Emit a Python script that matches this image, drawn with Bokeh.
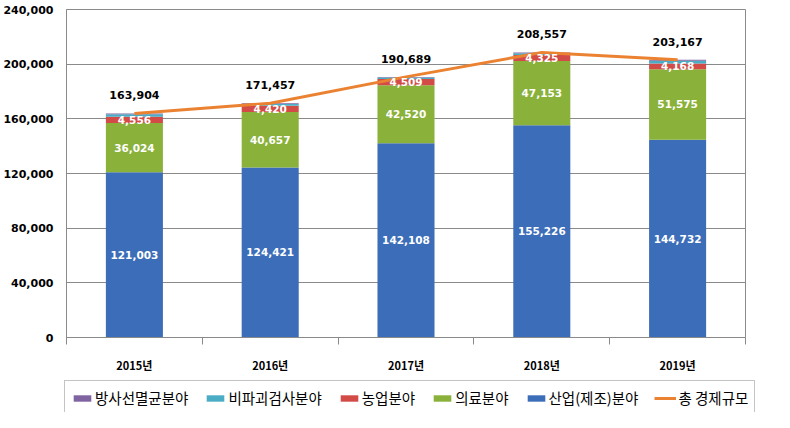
from bokeh.plotting import figure
from bokeh.layouts import column
from bokeh.models import (ColumnDataSource, FixedTicker, NumeralTickFormatter, Range1d,
                          Legend, LegendItem)
from bokeh.core.properties import value
from bokeh.embed import file_html
from bokeh.resources import INLINE

years = ["2015년", "2016년", "2017년", "2018년", "2019년"]
industry = [121003, 124421, 142108, 155226, 144732]   # 산업(제조)분야
medical = [36024, 40657, 42520, 47153, 51575]         # 의료분야
agri = [4556, 4420, 4509, 4325, 4168]                 # 농업분야
ndt = [1700, 1400, 1050, 1300, 2100]                  # 비파괴검사분야 (estimated)
radiation = [621, 559, 502, 553, 592]                 # 방사선멸균분야 (estimated)
total = [163904, 171457, 190689, 208557, 203167]      # 총 경제규모
y_ticks = [0, 40000, 80000, 120000, 160000, 200000, 240000]

series_names = ["산업(제조)분야", "의료분야", "농업분야", "비파괴검사분야", "방사선멸균분야"]
total_name = "총 경제규모"
colors = ["#3C6DB9", "#8AB13A", "#D24B47", "#4BACC6", "#8064A2"]
line_color = "#EB8232"

xs = [i + 0.5 for i in range(len(years))]
src = ColumnDataSource(dict(x=xs, ind=industry, med=medical, agr=agri, ndt=ndt, rad=radiation,
                            tot=total))
stack_keys = ["ind", "med", "agr", "ndt", "rad"]

p = figure(width=774, height=375, output_backend="svg", toolbar_location=None,
           x_range=Range1d(0, len(years)), y_range=Range1d(0, 240000),
           min_border_left=60, min_border_right=29, min_border_top=9, min_border_bottom=38)
p.background_fill_color = "white"
p.border_fill_color = "white"
p.outline_line_color = "#8A8A8A"
p.frame_align = False

renderers = p.vbar_stack(stack_keys, x="x", width=0.42, color=colors, source=src,
                         line_color=None)
line_r = p.line("x", "tot", source=src, line_color=line_color, line_width=3)

# segment labels
def mids(lower, vals):
    return [l + v / 2 for l, v in zip(lower, vals)]

base0 = [0] * len(years)
base1 = industry
base2 = [a + b for a, b in zip(industry, medical)]
lab_x = xs * 3
lab_y = mids(base0, industry) + mids(base1, medical) + mids(base2, agri)
lab_t = [f"{v:,}" for v in industry + medical + agri]
p.text(lab_x, lab_y, text=lab_t, text_color="white", text_font=value("DejaVu Sans"),
       text_font_style="bold", text_font_size="10.5px", text_align="center",
       text_baseline="middle")

p.text(xs, total, text=[f"{v:,}" for v in total], text_color="black",
       text_font=value("DejaVu Sans"), text_font_style="bold", text_font_size="11px",
       text_align="center", text_baseline="middle", y_offset=-18)

# axes
p.yaxis.ticker = FixedTicker(ticks=y_ticks)
p.yaxis.formatter = NumeralTickFormatter(format="0,0")
p.yaxis.major_tick_out = 0
p.yaxis.major_tick_in = 0
p.yaxis.minor_tick_out = 0
p.yaxis.minor_tick_in = 0
p.yaxis.major_label_standoff = 13
p.yaxis.axis_line_color = "#8A8A8A"
p.yaxis.major_label_text_font = "DejaVu Sans"
p.yaxis.major_label_text_font_style = "bold"
p.yaxis.major_label_text_font_size = "11px"
p.yaxis.major_label_text_color = "black"

p.xaxis.ticker = FixedTicker(ticks=xs, minor_ticks=list(range(len(years) + 1)))
p.xaxis.major_label_overrides = {x: y for x, y in zip(xs, years)}
p.xaxis.major_tick_out = 0
p.xaxis.major_tick_in = 0
p.xaxis.minor_tick_out = 7
p.xaxis.minor_tick_in = 0
p.xaxis.minor_tick_line_color = "#8A8A8A"
p.xaxis.axis_line_color = "#8A8A8A"
p.xaxis.major_label_standoff = 12
p.xaxis.major_label_text_font = "Noto Sans CJK KR"
p.xaxis.major_label_text_font_style = "bold"
p.xaxis.major_label_text_font_size = "11px"
p.xaxis.major_label_text_color = "black"

p.xgrid.visible = False
p.ygrid.grid_line_color = "#8A8A8A"
p.ygrid.ticker = FixedTicker(ticks=y_ticks)

# legend strip (same data, drawn outside its visible range so only the legend shows)
pl = figure(width=774, height=37, output_backend="svg", toolbar_location=None,
            x_range=Range1d(0, len(years)), y_range=Range1d(-2, -1),
            x_axis_location=None, y_axis_location=None,
            min_border_left=64, min_border_right=0, min_border_top=5, min_border_bottom=0)
pl.grid.visible = False
pl.outline_line_color = None
pl.background_fill_color = "white"
pl.border_fill_color = "white"
pl.frame_align = False

lr = pl.vbar_stack(stack_keys, x="x", width=0.42, color=colors, source=src, line_color=None)
ll = pl.line("x", "tot", source=src, line_color=line_color, line_width=3)

items = [LegendItem(label=series_names[i], renderers=[lr[i]]) for i in [4, 3, 2, 1, 0]]
items.append(LegendItem(label=total_name, renderers=[ll]))
legend = Legend(items=items, orientation="horizontal", location="top_left",
                label_text_font="Noto Sans CJK KR", label_text_font_size="14.5px",
                label_text_color="black", glyph_width=22, glyph_height=8,
                label_standoff=2, spacing=16, padding=6, margin=0,
                border_line_color="#8A8A8A", border_line_width=1,
                label_height=16, background_fill_color="white", background_fill_alpha=1.0)
pl.add_layout(legend, "center")

layout = column(p, pl, spacing=0)
open("out.html", "w").write(file_html(layout, INLINE))
